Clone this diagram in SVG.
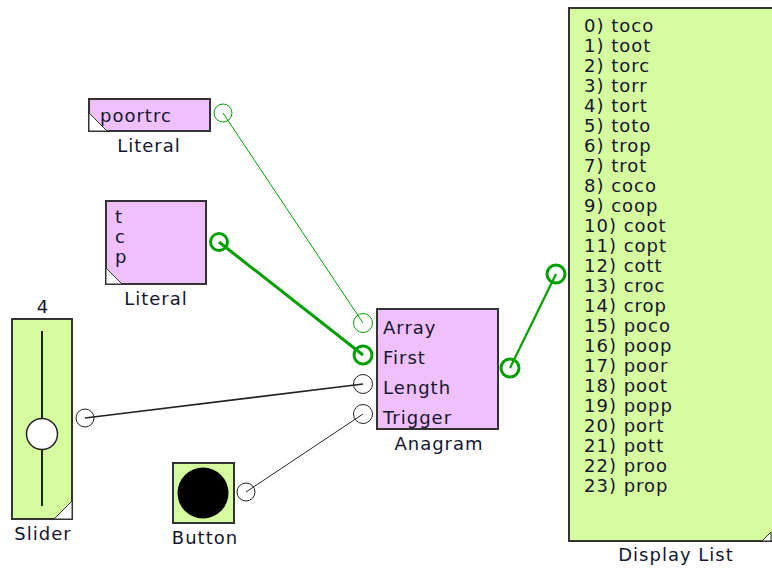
<svg xmlns="http://www.w3.org/2000/svg" width="772" height="569" viewBox="0 0 772 569">
<style>
text{font-family:"DejaVu Sans","Verdana",sans-serif;font-size:18px;letter-spacing:1px;fill:#151530}
.lbl{text-anchor:middle}
.pink{fill:#f0c0fc;stroke:#333;stroke-width:2}
.green{fill:#d6fca0;stroke:#333;stroke-width:2}
.corner{fill:#fff;stroke:#333;stroke-width:1}
.pg{fill:none;stroke:#00a000;stroke-width:1}
.pgt{fill:none;stroke:#00a000;stroke-width:3}
.pk{fill:none;stroke:#222;stroke-width:1}
</style>
<rect width="772" height="569" fill="#fff"/>
<g id="connectors" fill="none">
<line x1="223" y1="113" x2="363" y2="323" stroke="#00a000" stroke-width="1"/>
<line x1="219" y1="242" x2="363" y2="355" stroke="#00a000" stroke-width="3"/>
<line x1="85" y1="418" x2="363" y2="384" stroke="#222" stroke-width="1.6"/>
<line x1="246" y1="492" x2="363" y2="414" stroke="#222" stroke-width="1"/>
<line x1="510" y1="368" x2="556" y2="274" stroke="#00a000" stroke-width="2.2"/>
</g>
<g id="literal1">
<rect class="pink" x="89" y="99" width="121" height="32"/>
<path class="corner" d="M89,113 L89,131 L107,131 Z"/>
<text x="100" y="122">poortrc</text>
<text class="lbl" x="149" y="152">Literal</text>
<circle class="pg" cx="223" cy="113" r="9"/>
</g>
<g id="literal2">
<rect class="pink" x="106" y="201" width="100" height="83"/>
<path class="corner" d="M106,268 L106,284 L122,284 Z"/>
<text x="115" y="223">t</text>
<text x="115" y="243">c</text>
<text x="115" y="263">p</text>
<text class="lbl" x="156" y="305">Literal</text>
<circle class="pgt" cx="219" cy="242" r="8.5"/>
</g>
<g id="slider">
<text class="lbl" x="43" y="313">4</text>
<rect class="green" x="12" y="319" width="60" height="200"/>
<path class="corner" d="M72,501 L72,519 L54,519 Z"/>
<line x1="42" y1="331" x2="42" y2="506" stroke="#222" stroke-width="2"/>
<circle cx="42" cy="434" r="15.5" fill="#fff" stroke="#222" stroke-width="1.5"/>
<text class="lbl" x="43" y="540">Slider</text>
<circle class="pk" cx="85" cy="418" r="9"/>
</g>
<g id="button">
<rect class="green" x="173" y="463" width="61" height="60"/>
<circle cx="203" cy="493" r="25.5" fill="#000"/>
<text class="lbl" x="205" y="544">Button</text>
<circle class="pk" cx="246" cy="492" r="9"/>
</g>
<g id="anagram">
<rect class="pink" x="377" y="309" width="121" height="120"/>
<text x="383" y="334">Array</text>
<text x="383" y="364">First</text>
<text x="383" y="394">Length</text>
<text x="383" y="424">Trigger</text>
<text class="lbl" x="439" y="450">Anagram</text>
<circle class="pg" cx="363" cy="323" r="9.5"/>
<circle class="pgt" cx="363" cy="355" r="9"/>
<circle class="pk" cx="363" cy="384" r="9.5"/>
<circle class="pk" cx="363" cy="414" r="9.5"/>
<circle class="pgt" cx="510" cy="368" r="9"/>
</g>
<g id="displaylist">
<rect class="green" x="569" y="8" width="204" height="533"/>
<path class="corner" d="M771,532 L771,541 L762,541 Z"/>
<text x="584" y="32">0) toco</text>
<text x="584" y="52">1) toot</text>
<text x="584" y="72">2) torc</text>
<text x="584" y="92">3) torr</text>
<text x="584" y="112">4) tort</text>
<text x="584" y="132">5) toto</text>
<text x="584" y="152">6) trop</text>
<text x="584" y="172">7) trot</text>
<text x="584" y="192">8) coco</text>
<text x="584" y="212">9) coop</text>
<text x="584" y="232">10) coot</text>
<text x="584" y="252">11) copt</text>
<text x="584" y="272">12) cott</text>
<text x="584" y="292">13) croc</text>
<text x="584" y="312">14) crop</text>
<text x="584" y="332">15) poco</text>
<text x="584" y="352">16) poop</text>
<text x="584" y="372">17) poor</text>
<text x="584" y="392">18) poot</text>
<text x="584" y="412">19) popp</text>
<text x="584" y="432">20) port</text>
<text x="584" y="452">21) pott</text>
<text x="584" y="472">22) proo</text>
<text x="584" y="492">23) prop</text>
<text class="lbl" x="676" y="561">Display List</text>
<circle class="pgt" cx="556" cy="274" r="9"/>
</g>
</svg>
